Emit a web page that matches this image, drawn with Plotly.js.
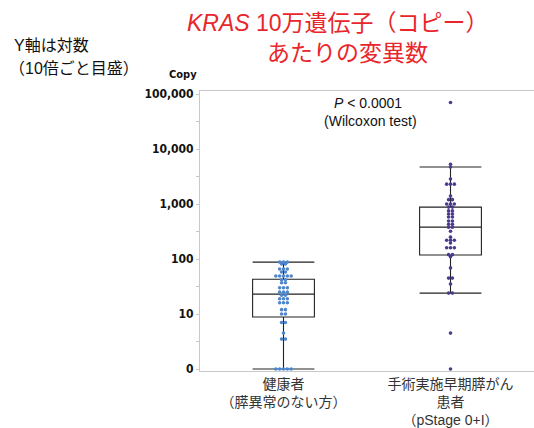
<!DOCTYPE html>
<html>
<head>
<meta charset="utf-8">
<script src="https://cdn.plot.ly/plotly-3.0.1.min.js"></script>
<style>html,body{margin:0;padding:0;background:#fff;}#chart{width:534px;height:428px;}</style>
</head>
<body>
<div id="chart"></div>
<script>
// ---- data ----
const groupLabels = ['健康者<br>（膵異常のない方）', '手術実施早期膵がん<br>患者<br>（pStage 0+I）'];
const healthyValues = [88,88,88, 81,81, 66,66,66, 58,58, 49,49,49,49,49, 42,42, 37,37,
  30,30,30, 25,25,25, 22,22, 19,19,19, 16,16,16, 12,12, 10,10, 7,7, 4.5, 3.5,3.5, 0,0,0,0,0];
const patientValues = [70000, 5300, 4700, 2850, 2300,2300,2300, 1400, 1200,1200, 1000,1000,1000,
  880,880, 750,750, 660,660, 580,580, 490,490, 430,430, 380,380, 320, 250, 220,220,220, 195,
  160,160,160, 120,120, 110, 69, 45,45, 35, 24,24, 4.5, 0];
const boxLower  = [0, 24];
const boxQ1     = [8.8, 118];
const boxMedian = [23, 380];
const boxQ3     = [43, 880];
const boxUpper  = [88, 4700];
const yTickVals = [0, 10, 100, 1000, 10000, 100000];
const yTickText = ['0', '10', '100', '1,000', '10,000', '100,000'];

// ---- helpers ----
const ZERO_POS = 1; // "0" is drawn at the 10^0 position of the log axis
const disp = v => (v === 0 ? ZERO_POS : v);
function swarm(vals, center, step) {
  const counts = {}, seen = {};
  vals.forEach(v => counts[v] = (counts[v] || 0) + 1);
  return vals.map(v => {
    const i = seen[v] || 0; seen[v] = i + 1;
    return center + (i - (counts[v] - 1) / 2) * step;
  });
}
const W = 534, H = 428, M = {l: 200, r: 0, t: 91, b: 57};
const px2x = p => (p - M.l) / (W - M.l - M.r);
const py2y = p => (H - M.b - p) / (H - M.t - M.b);

const step = 0.023;
const tickVals = [], tickText = [];
yTickVals.forEach((v, i) => {
  tickVals.push(disp(v)); tickText.push(yTickText[i]);
  if (i < yTickVals.length - 1) { tickVals.push(disp(v) * Math.sqrt(10)); tickText.push(''); }
});

const traces = [
  {
    type: 'box', x: [0, 1],
    q1: boxQ1, median: boxMedian, q3: boxQ3,
    lowerfence: boxLower.map(disp), upperfence: boxUpper,
    boxpoints: false, width: 0.37, whiskerwidth: 1,
    line: {color: '#222', width: 1.1}, fillcolor: 'rgba(0,0,0,0)',
    hoverinfo: 'skip', showlegend: false
  },
  {
    type: 'scatter', mode: 'markers',
    x: swarm(healthyValues, 0, step), y: healthyValues.map(disp),
    marker: {size: 3.6, color: '#4f86cc'}, showlegend: false, cliponaxis: false
  },
  {
    type: 'scatter', mode: 'markers',
    x: swarm(patientValues, 1, step), y: patientValues.map(disp),
    marker: {size: 3.6, color: '#4b3a8f'}, showlegend: false, cliponaxis: false
  }
];

const narrow = 'Liberation Sans Narrow, DejaVu Sans Condensed, Arial Narrow, sans-serif';
const jp = 'Liberation Sans, Arial, Noto Sans CJK JP, sans-serif';

const layout = {
  width: W, height: H, margin: M,
  paper_bgcolor: '#fff', plot_bgcolor: '#fff',
  xaxis: {
    range: [-0.5, 1.5], tickvals: [0, 1], ticktext: groupLabels,
    showgrid: false, zeroline: false, showline: true, mirror: true,
    linecolor: '#c8c8c8', linewidth: 1, ticks: '',
    tickfont: {family: jp, size: 14, color: '#333'}
  },
  yaxis: {
    type: 'log', range: [-0.036, 5.055],
    tickvals: tickVals, ticktext: tickText,
    showgrid: false, zeroline: false, showline: true,
    linecolor: '#c8c8c8', linewidth: 1, ticks: 'outside', ticklen: 3, tickcolor: '#c8c8c8',
    tickfont: {family: narrow, size: 12, color: '#111', weight: 'bold'}
  },
  annotations: [
    {text: '<i>KRAS</i> 10万遺伝子（コピー）', xref: 'paper', yref: 'paper', x: px2x(338), y: py2y(23),
     showarrow: false, xanchor: 'center', yanchor: 'middle', font: {family: jp, size: 23, color: '#e8262b'}},
    {text: 'あたりの変異数', xref: 'paper', yref: 'paper', x: px2x(347), y: py2y(53),
     showarrow: false, xanchor: 'center', yanchor: 'middle', font: {family: jp, size: 23, color: '#e8262b'}},
    {text: 'Y軸は対数', xref: 'paper', yref: 'paper', x: px2x(12), y: py2y(46),
     showarrow: false, xanchor: 'left', yanchor: 'middle', font: {family: jp, size: 16, color: '#111'}},
    {text: '（10倍ごと目盛）', xref: 'paper', yref: 'paper', x: px2x(7), y: py2y(68),
     showarrow: false, xanchor: 'left', yanchor: 'middle', font: {family: jp, size: 16, color: '#111'}},
    {text: 'Copy', xref: 'paper', yref: 'paper', x: px2x(183), y: py2y(74),
     showarrow: false, xanchor: 'center', yanchor: 'middle', font: {family: narrow, size: 11, color: '#111', weight: 'bold'}},
    {text: '<i>P</i> < 0.0001', xref: 'paper', yref: 'paper', x: px2x(368), y: py2y(103),
     showarrow: false, xanchor: 'center', yanchor: 'middle', font: {family: jp, size: 14, color: '#111'}},
    {text: '(Wilcoxon test)', xref: 'paper', yref: 'paper', x: px2x(370), y: py2y(121),
     showarrow: false, xanchor: 'center', yanchor: 'middle', font: {family: jp, size: 14, color: '#111'}}
  ]
};

Plotly.newPlot('chart', traces, layout, {displayModeBar: false, staticPlot: true});
</script>
</body>
</html>
